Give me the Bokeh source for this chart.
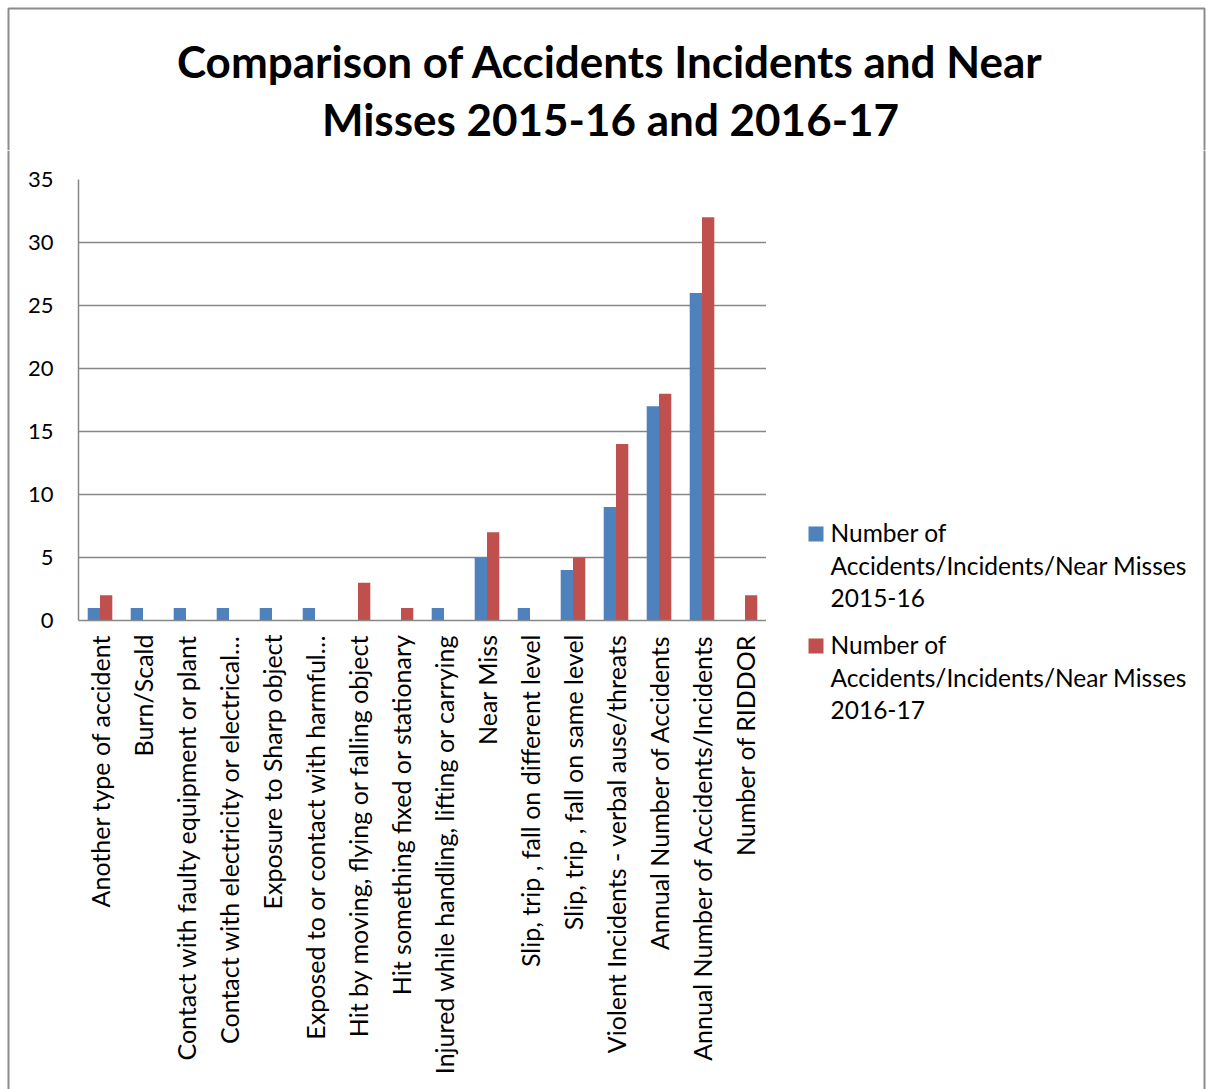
import math
from bokeh.plotting import figure
from bokeh.layouts import row, column
from bokeh.models import FactorRange, Range1d, FixedTicker, ColumnDataSource
from bokeh.core.properties import value
from bokeh.transform import dodge
from bokeh.embed import file_html
from bokeh.resources import INLINE

categories = [
    "Another type of accident",
    "Burn/Scald",
    "Contact with faulty equipment or plant",
    "Contact with electricity or electrical\u2026",
    "Exposure to Sharp object",
    "Exposed to or contact with harmful\u2026",
    "Hit by moving, flying or falling object",
    "Hit something fixed or stationary",
    "Injured while handling, lifting or carrying",
    "Near Miss",
    "Slip, trip , fall on different level",
    "Slip, trip , fall on same level",
    "Violent Incidents - verbal ause/threats",
    "Annual Number of Accidents",
    "Annual Number of Accidents/Incidents",
    "Number of RIDDOR",
]
values_2015_16 = [1, 1, 1, 1, 1, 1, 0, 0, 1, 5, 1, 4, 9, 17, 26, 0]
values_2016_17 = [2, 0, 0, 0, 0, 0, 3, 1, 0, 7, 0, 5, 14, 18, 32, 2]
series_labels = [
    "Number of\nAccidents/Incidents/Near Misses\n2015-16",
    "Number of\nAccidents/Incidents/Near Misses\n2016-17",
]
title_lines = ["Comparison of Accidents Incidents and Near", "Misses 2015-16 and 2016-17"]
y_ticks = [0, 5, 10, 15, 20, 25, 30, 35]

FONT = "Lato"
GRID = "#878787"
BORDER = "#8c8c8c"
BLUE = "#4F81BD"
RED = "#C0504D"
series_colors = [BLUE, RED]

W, H = 1206, 1089
TOP_H = 150
LEFT_W = 10
PLOT_W = 756
RIGHT_W = W - LEFT_W - PLOT_W
BODY_H = H - TOP_H


def blank(width, height, xr, yr):
    f = figure(width=width, height=height, x_range=Range1d(*xr), y_range=Range1d(*yr),
               min_border=0, x_axis_type=None, y_axis_type=None, frame_align=False,
               output_backend="svg", toolbar_location=None)
    f.outline_line_color = None
    f.xgrid.grid_line_color = None
    f.ygrid.grid_line_color = None
    return f


# ---- title strip (pixel-like coordinates, y downward)
title_fig = blank(W, TOP_H, (0, W), (TOP_H, 0))
title_fig.line(x=[8, 8, 1204, 1204], y=[TOP_H, 8, 8, TOP_H], line_color=BORDER, line_width=2)
title_fig.text(x=[610, 610], y=[60, 118], text=title_lines, text_align="center",
               text_baseline="middle", text_font=value(FONT), text_font_style="bold",
               text_font_size="44px", text_color="black")

# ---- left border strip
left_fig = blank(LEFT_W, BODY_H, (0, LEFT_W), (H, TOP_H))
left_fig.line(x=[8, 8], y=[TOP_H, H], line_color=BORDER, line_width=2)

# ---- main chart
src = ColumnDataSource(dict(cat=categories, a=values_2015_16, b=values_2016_17))
p = figure(x_range=FactorRange(factors=categories, range_padding=0, factor_padding=0),
           y_range=Range1d(0, 35), width=PLOT_W, height=BODY_H, title=None,
           output_backend="svg", toolbar_location=None, frame_align=False,
           min_border_left=68, min_border_right=0, min_border_top=29, min_border_bottom=469)

p.vbar(x=dodge("cat", -0.143, range=p.x_range), top="a", width=0.286, source=src,
       fill_color=BLUE, line_color=None)
p.vbar(x=dodge("cat", 0.143, range=p.x_range), top="b", width=0.286, source=src,
       fill_color=RED, line_color=None)

p.outline_line_color = None
p.xgrid.grid_line_color = None
p.ygrid.grid_line_color = GRID
p.ygrid.grid_line_width = 1.5
p.yaxis.ticker = FixedTicker(ticks=y_ticks)

for ax in (p.xaxis[0], p.yaxis[0]):
    ax.axis_line_color = GRID
    ax.axis_line_width = 1.5
    ax.major_tick_out = 0
    ax.major_tick_in = 0
    ax.minor_tick_out = 0
    ax.minor_tick_in = 0
    ax.major_label_text_font = FONT
    ax.major_label_text_color = "black"

p.yaxis.major_label_text_font_size = "22px"
p.xaxis.major_label_text_font_size = "25px"
p.yaxis.major_label_standoff = 25
p.xaxis.major_label_standoff = 14
p.xaxis.major_label_orientation = math.pi / 2

# ---- legend panel (pixel-like coordinates, y downward)
legend_fig = blank(RIGHT_W, BODY_H, (LEFT_W + PLOT_W, W), (H, TOP_H))
legend_fig.line(x=[1204, 1204], y=[TOP_H, H], line_color=BORDER, line_width=2)

item_top = [533.5, 645.5]   # centre of each legend swatch
line_pitch = 32.5
legend_fig.rect(x=[815.5] * len(series_labels), y=item_top, width=15, height=15,
                fill_color=series_colors, line_color=None)
lx, ly, lt = [], [], []
for i, lab in enumerate(series_labels):
    for j, line in enumerate(lab.split("\n")):
        lx.append(830)
        ly.append(item_top[i] - 1.5 + j * line_pitch)
        lt.append(line)
legend_fig.text(x=lx, y=ly, text=lt, text_align="left", text_baseline="alphabetic",
                text_font=value(FONT), text_font_size="24.5px", text_color="black")

root = column(title_fig, row(left_fig, p, legend_fig, spacing=0), spacing=0)
open("out.html", "w").write(file_html(root, INLINE))
